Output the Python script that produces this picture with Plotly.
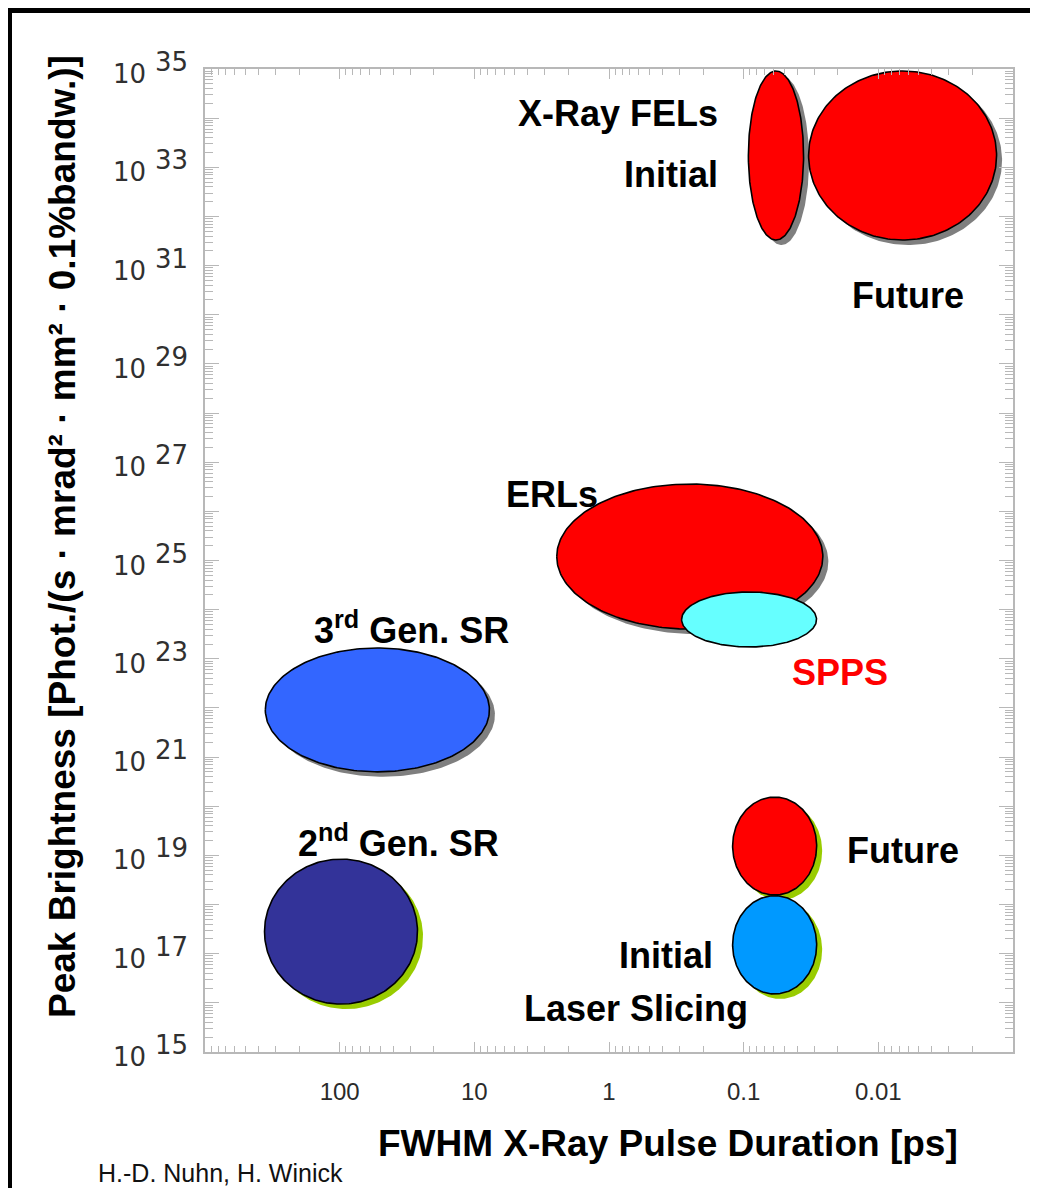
import numpy as np
import plotly.graph_objects as go

# ---------------- data (log10 units) ----------------
# each region: centre log10(pulse duration, ps), half-width (decades),
# centre log10(peak brightness), half-height (decades), fill colour, shadow colour
regions = ["FEL initial", "FEL future", "ERLs", "SPPS", "3rd Gen SR", "2nd Gen SR", "Slicing future", "Slicing initial"]
cx_log = [-1.24, -2.18, -0.60, -1.04, 1.72, 1.99, -1.23, -1.23]
half_w = [0.205, 0.698, 0.988, 0.501, 0.832, 0.568, 0.312, 0.312]
cy_log = [33.24, 33.24, 25.08, 23.80, 21.96, 17.45, 19.19, 17.18]
half_h = [1.72, 1.72, 1.475, 0.56, 1.26, 1.475, 0.997, 1.0]
fills = ["#FF0000", "#FF0000", "#FF0000", "#66FFFF", "#3366FF", "#333399", "#FF0000", "#0099FF"]
shadows = ["#7f7f7f", "#7f7f7f", "#7f7f7f", None, "#7f7f7f", "#99CC00", "#99CC00", "#99CC00"]

x_tick_vals = [100.0, 10.0, 1.0, 0.1, 0.01]
x_tick_text = ["100", "10", "1", "0.1", "0.01"]
y_decades = list(range(15, 36))                  # a tick at every decade
y_label_exponents = list(range(15, 36, 2))       # labelled decades: 10^15 ... 10^35

# ---------------- layout geometry ----------------
# the page body has an 8px margin; the figure is sized to fit the 1038x1196 window
OFF = 8
W, H = 1038 - 2 * OFF, 1196 - 2 * OFF
ML = 205 - OFF
MT = 69 - OFF
MR = W - (1013 - OFF)
MB = H - (1052 - OFF)
PW, PH = W - ML - MR, H - MT - MB
PX_PER_DEC_X = PW / 6.0
PX_PER_DEC_Y = PH / 20.0


def px(x):  # page pixel -> paper
    return (x - OFF - ML) / PW


def py(y):
    return (H - MB - (y - OFF)) / PH


fig = go.Figure()

t = np.linspace(0, 2 * np.pi, 241)


def ellipse(cx, hw, cy, hh, dx=0.0, dy=0.0):
    xs = 10.0 ** (cx + hw * np.cos(t) + dx)
    ys = 10.0 ** (cy + hh * np.sin(t) + dy)
    return xs, ys


for i in range(len(regions)):
    if shadows[i]:
        sx, sy = ellipse(cx_log[i], half_w[i], cy_log[i], half_h[i],
                         dx=-5.5 / PX_PER_DEC_X, dy=-5.0 / PX_PER_DEC_Y)
        fig.add_trace(go.Scatter(x=sx, y=sy, mode="lines", fill="toself",
                                 fillcolor=shadows[i], line=dict(width=0, color=shadows[i]),
                                 hoverinfo="skip", showlegend=False))
    ex, ey = ellipse(cx_log[i], half_w[i], cy_log[i], half_h[i])
    fig.add_trace(go.Scatter(x=ex, y=ey, mode="lines", fill="toself",
                             fillcolor=fills[i], line=dict(width=1.6, color="black"),
                             name=regions[i], hoverinfo="name", showlegend=False))

axis_col = "#b8b8b8"
minor_x = [float(m) * 10.0 ** k for k in range(-3, 3) for m in range(2, 10)]
minor_y = [float(m) * 10.0 ** k for k in range(15, 35) for m in range(2, 10)]

fig.update_layout(xaxis=dict(
    type="log", range=[3, -3], autorange=False,
    tickmode="array", tickvals=x_tick_vals, ticktext=x_tick_text,
    ticks="inside", ticklen=10, tickwidth=1.2, tickcolor=axis_col,
    showline=True, linecolor=axis_col, linewidth=1.5, mirror="allticks",
    showgrid=False, zeroline=False,
    tickfont=dict(family="Liberation Sans, Arial, sans-serif", size=24, color="#2a2a2a"),
    ticklabelstandoff=17,
    minor=dict(tickmode="array", tickvals=minor_x, ticks="inside", ticklen=6,
               tickwidth=1, tickcolor=axis_col, showgrid=False)))

fig.update_layout(yaxis=dict(
    type="log", range=[15, 35], autorange=False,
    tickmode="array", tickvals=[10.0 ** e for e in y_decades], showticklabels=False,
    ticks="inside", ticklen=14, tickwidth=1.2, tickcolor=axis_col,
    showline=True, linecolor=axis_col, linewidth=1.5, mirror="allticks",
    showgrid=False, zeroline=False,
    minor=dict(tickmode="array", tickvals=minor_y, ticks="inside", ticklen=8,
               tickwidth=1, tickcolor=axis_col, showgrid=False)))

# y tick labels "10" with a large exponent, placed on the y axis scale (log axis -> log10 value)
lab_font = "DejaVu Sans, Verdana, sans-serif"
for e in y_label_exponents:
    fig.add_annotation(text="10", x=px(148), xref="paper", y=e, yref="y",
                       xanchor="right", yanchor="middle", yshift=-5, showarrow=False,
                       font=dict(family=lab_font, size=26, color="#303030"))
    fig.add_annotation(text=str(e), x=px(153), xref="paper", y=e, yref="y",
                       xanchor="left", yanchor="middle", yshift=7, showarrow=False,
                       font=dict(family=lab_font, size=26, color="#303030"))

bold = "Liberation Sans, Arial, sans-serif"
labels = [
    ("<b>X-Ray FELs</b>", 720, 114, "right", "black"),
    ("<b>Initial</b>", 720, 174, "right", "black"),
    ("<b>Future</b>", 908, 295, "center", "black"),
    ("<b>ERLs</b>", 552, 495, "center", "black"),
    ("<b>SPPS</b>", 840, 672, "center", "#FF0000"),
    ("<b>3<sup>rd</sup> Gen. SR</b>", 411, 628, "center", "black"),
    ("<b>2<sup>nd</sup> Gen. SR</b>", 398, 841, "center", "black"),
    ("<b>Future</b>", 903, 850, "center", "black"),
    ("<b>Initial</b>", 666, 955, "center", "black"),
    ("<b>Laser Slicing</b>", 636, 1008, "center", "black"),
]
for txt, x, y, anc, col in labels:
    fig.add_annotation(text=txt, x=px(x), y=py(y), xref="paper", yref="paper",
                       xanchor=anc, yanchor="middle", showarrow=False,
                       font=dict(family=bold, size=36, color=col))

fig.add_annotation(text="<b>FWHM X-Ray Pulse Duration [ps]</b>", x=px(668), y=py(1143),
                   xref="paper", yref="paper", xanchor="center", yanchor="middle",
                   showarrow=False, font=dict(family=bold, size=37, color="black"))
fig.add_annotation(text="<b>Peak Brightness [Phot./(s · mrad² · mm² · 0.1%bandw.)]</b>",
                   x=px(62), y=py(537), xref="paper", yref="paper", textangle=-90,
                   xanchor="center", yanchor="middle", showarrow=False,
                   font=dict(family=bold, size=37, color="black"))
fig.add_annotation(text="H.-D. Nuhn, H. Winick", x=px(96), y=py(1189),
                   xref="paper", yref="paper", xanchor="left", yanchor="bottom",
                   showarrow=False, font=dict(family="Liberation Sans, Arial", size=25, color="#111"))

# frame: black border at left/top
shapes = [
    dict(type="rect", xref="paper", yref="paper", x0=px(8), x1=px(1038), y0=py(8), y1=py(13),
         fillcolor="black", line=dict(width=0), layer="below"),
    dict(type="rect", xref="paper", yref="paper", x0=px(8), x1=px(12), y0=py(8), y1=py(1196),
         fillcolor="black", line=dict(width=0), layer="below"),
]
fig.update_layout(width=W, height=H, margin=dict(l=ML, r=MR, t=MT, b=MB),
                  paper_bgcolor="white", plot_bgcolor="white", shapes=shapes,
                  showlegend=False)

fig.write_html("out.html")
